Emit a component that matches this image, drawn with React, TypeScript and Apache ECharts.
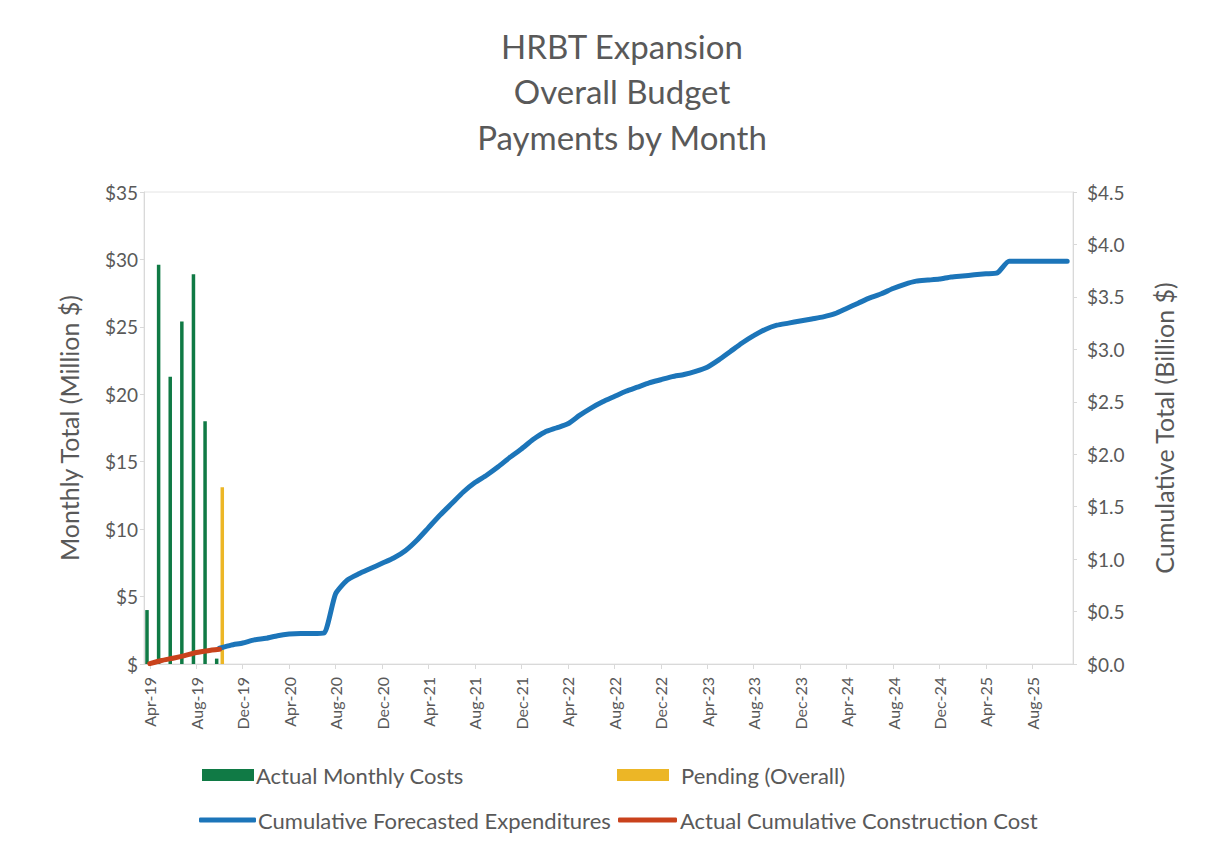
import React, { useEffect, useRef } from "react";
import * as echarts from "echarts";

const months: string[] = [
  "Apr-19","May-19","Jun-19","Jul-19","Aug-19","Sep-19","Oct-19","Nov-19","Dec-19",
  "Jan-20","Feb-20","Mar-20","Apr-20","May-20","Jun-20","Jul-20","Aug-20","Sep-20","Oct-20","Nov-20","Dec-20",
  "Jan-21","Feb-21","Mar-21","Apr-21","May-21","Jun-21","Jul-21","Aug-21","Sep-21","Oct-21","Nov-21","Dec-21",
  "Jan-22","Feb-22","Mar-22","Apr-22","May-22","Jun-22","Jul-22","Aug-22","Sep-22","Oct-22","Nov-22","Dec-22",
  "Jan-23","Feb-23","Mar-23","Apr-23","May-23","Jun-23","Jul-23","Aug-23","Sep-23","Oct-23","Nov-23","Dec-23",
  "Jan-24","Feb-24","Mar-24","Apr-24","May-24","Jun-24","Jul-24","Aug-24","Sep-24","Oct-24","Nov-24","Dec-24",
  "Jan-25","Feb-25","Mar-25","Apr-25","May-25","Jun-25","Jul-25","Aug-25","Sep-25","Oct-25","Nov-25",
];

// Monthly totals (Million $)
const actualMonthly: (number | null)[] = [4.0, 29.6, 21.3, 25.4, 28.9, 18.0, 0.4];
const pendingOverall: (number | null)[] = [null, null, null, null, null, null, 13.1];

// Cumulative totals (Billion $)
const actualCumulative: (number | null)[] = [0.004, 0.033, 0.055, 0.08, 0.109, 0.127, 0.14];
const forecastCumulative: (number | null)[] = [
  null, null, null, null, null, null,
  0.15, 0.18, 0.2,
  0.23, 0.245, 0.27, 0.285, 0.29, 0.29, 0.295, 0.67, 0.8, 0.86, 0.91, 0.96,
  1.01, 1.08, 1.18, 1.3, 1.42, 1.53, 1.64, 1.73, 1.8, 1.88, 1.97, 2.05,
  2.14, 2.21, 2.25, 2.29, 2.37, 2.44, 2.5, 2.55, 2.6, 2.64, 2.68, 2.71,
  2.74, 2.76, 2.79, 2.83, 2.9, 2.98, 3.06, 3.13, 3.19, 3.23, 3.25, 3.27,
  3.29, 3.31, 3.34, 3.39, 3.44, 3.49, 3.53, 3.58, 3.62, 3.65, 3.66, 3.67,
  3.69, 3.7, 3.71, 3.72, 3.73, 3.84, 3.84, 3.84, 3.84, 3.84, 3.84,
];

const FONT = "Lato";
const GREY = "#595959";

export default function App() {
  const ref = useRef<HTMLDivElement>(null);
  useEffect(() => {
    if (!ref.current) return;
    const chart = echarts.init(ref.current, null, { renderer: "svg" });
    const legendText = { fontFamily: FONT, fontSize: 22, color: GREY, padding: [0, 0, 0, -3] };
    chart.setOption({
      animation: false,
      backgroundColor: "#ffffff",
      textStyle: { fontFamily: FONT },
      title: {
        text: "HRBT Expansion\nOverall Budget\nPayments by Month",
        left: 617,
        top: 18,
        textAlign: "center",
        textStyle: { fontFamily: FONT, fontSize: 33, fontWeight: "normal", color: GREY, lineHeight: 45.5 },
      },
      legend: [
        { data: ["Actual Monthly Costs"], left: 197, top: 759, itemWidth: 52, itemHeight: 12, icon: "rect", textStyle: legendText },
        { data: ["Pending (Overall)"], left: 612, top: 759, itemWidth: 52, itemHeight: 12, icon: "rect", textStyle: { ...legendText, padding: [0, 0, 0, 7] } },
        { data: ["Cumulative Forecasted Expenditures"], left: 194, top: 804, itemWidth: 57, itemHeight: 5, icon: "roundRect", textStyle: legendText },
        { data: ["Actual Cumulative Construction Cost"], left: 613, top: 804, itemWidth: 59, itemHeight: 5, icon: "roundRect", textStyle: { ...legendText, padding: [0, 0, 0, -2] } },
      ],
      grid: { left: 144, right: 132, top: 192, bottom: 181, show: true, borderColor: "#e4e4e4", borderWidth: 1 },
      xAxis: {
        type: "category",
        data: months,
        boundaryGap: true,
        axisLine: { show: true, lineStyle: { color: "#d9d9d9" } },
        axisTick: { show: true, interval: 3, alignWithLabel: true, length: 5, lineStyle: { color: "#d9d9d9" } },
        axisLabel: { interval: 3, rotate: 90, margin: 13, fontFamily: FONT, fontSize: 16, color: GREY },
        splitLine: { show: false },
      },
      yAxis: [
        {
          type: "value",
          min: 0,
          max: 35,
          interval: 5,
          name: "Monthly Total (Million $)",
          nameLocation: "middle",
          nameGap: 63,
          nameTextStyle: { fontFamily: FONT, fontSize: 25, color: GREY },
          axisLine: { show: true, lineStyle: { color: "#d9d9d9" } },
          axisTick: { show: true, length: 4, lineStyle: { color: "#d9d9d9" } },
          axisLabel: {
            fontFamily: FONT, fontSize: 19, color: GREY, margin: 6,
            formatter: (v: number) => (v === 0 ? "$" : "$" + v),
          },
          splitLine: { show: false },
        },
        {
          type: "value",
          min: 0,
          max: 4.5,
          interval: 0.5,
          position: "right",
          name: "Cumulative Total (Billion $)",
          nameLocation: "middle",
          nameGap: 78,
          nameTextStyle: { fontFamily: FONT, fontSize: 25, color: GREY },
          axisLine: { show: true, lineStyle: { color: "#d9d9d9" } },
          axisTick: { show: true, length: 4, lineStyle: { color: "#d9d9d9" } },
          axisLabel: {
            fontFamily: FONT, fontSize: 19, color: GREY, margin: 14,
            formatter: (v: number) => "$" + v.toFixed(1),
          },
          splitLine: { show: false },
        },
      ],
      series: [
        {
          name: "Actual Monthly Costs",
          type: "bar",
          yAxisIndex: 0,
          data: actualMonthly,
          barWidth: 3.5,
          barGap: "60%",
          itemStyle: { color: "#107a45" },
        },
        {
          name: "Pending (Overall)",
          type: "bar",
          yAxisIndex: 0,
          data: pendingOverall,
          barWidth: 3.5,
          itemStyle: { color: "#ecb626" },
        },
        {
          name: "Cumulative Forecasted Expenditures",
          type: "line",
          yAxisIndex: 1,
          data: forecastCumulative,
          showSymbol: false,
          smooth: 0.2,
          lineStyle: { width: 5, color: "#1c75b9", cap: "round" },
          itemStyle: { color: "#1c75b9" },
          z: 3,
        },
        {
          name: "Actual Cumulative Construction Cost",
          type: "line",
          yAxisIndex: 1,
          data: actualCumulative,
          showSymbol: false,
          smooth: 0.2,
          lineStyle: { width: 5, color: "#c9421c", cap: "round" },
          itemStyle: { color: "#c9421c" },
          z: 4,
        },
      ],
    });
    return () => chart.dispose();
  }, []);
  return <div ref={ref} style={{ width: 1205, height: 845, margin: -8 }} />;
}
